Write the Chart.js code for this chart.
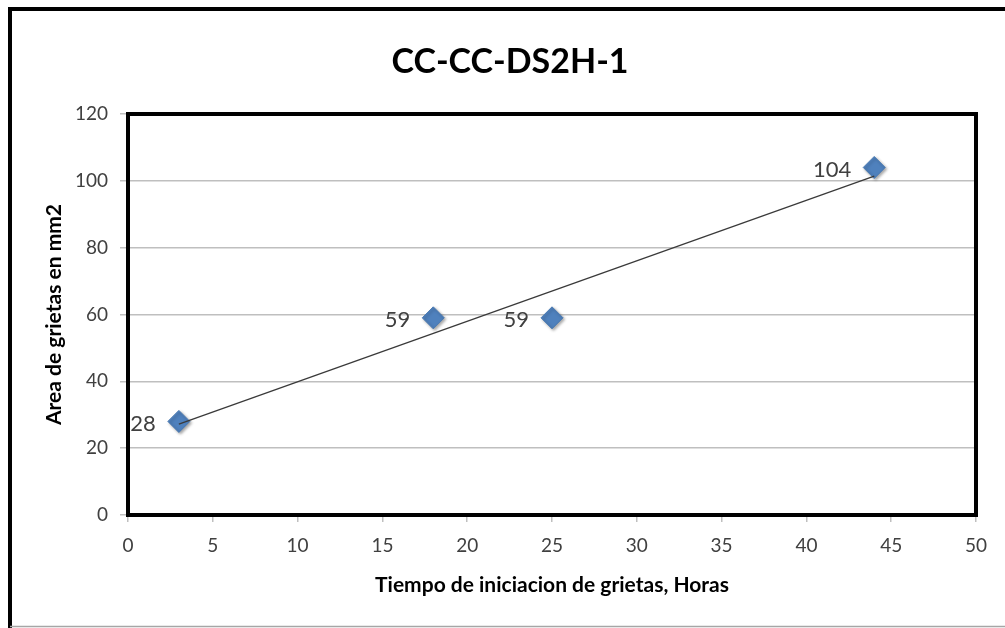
<!DOCTYPE html>
<html>
<head>
<meta charset="utf-8">
<script src="https://cdn.jsdelivr.net/npm/chart.js@4"></script>
<style>
  html, body { margin: 0; padding: 0; background: #fff; }
  #grietasChart { display: block; }
</style>
</head>
<body>
<canvas id="grietasChart" width="1005" height="628"></canvas>
<script>
// data
const horas = [3, 18, 25, 44];
const area = [28, 59, 59, 104];
// linear trendline ends, as drawn in the original
const trendX = [3, 44];
const trendY = [27.2, 101.4];
const xTicks = [0, 5, 10, 15, 20, 25, 30, 35, 40, 45, 50];
const yTicks = [0, 20, 40, 60, 80, 100, 120];
const chartTitle = 'CC-CC-DS2H-1';

const FONT = 'Lato, "Open Sans", sans-serif';

// frame around the whole picture, title and thick plot border
const frame = {
    id: 'frame',
    beforeDraw(chart) {
        const c = chart.ctx;
        c.save();
        c.fillStyle = '#fff';
        c.fillRect(0, 0, chart.width, chart.height);
        c.restore();
    },
    afterDraw(chart) {
        const c = chart.ctx;
        const a = chart.chartArea;
        c.save();
        c.strokeStyle = '#000';
        c.lineWidth = 4;
        c.beginPath();
        c.moveTo(8, 9);
        c.lineTo(chart.width, 9);
        c.moveTo(10, 7);
        c.lineTo(10, chart.height);
        c.stroke();
        c.strokeStyle = '#a6a6a6';
        c.lineWidth = 1.5;
        c.beginPath();
        c.moveTo(10, 626.5);
        c.lineTo(chart.width, 626.5);
        c.stroke();
        c.strokeStyle = '#000';
        c.lineWidth = 4;
        c.strokeRect(a.left, a.top, a.right - a.left, a.bottom - a.top);

        c.fillStyle = '#000';
        c.font = 'bold 34px ' + FONT;
        c.textAlign = 'center';
        c.textBaseline = 'middle';
        c.fillText(chartTitle, 510, 62);
        c.restore();
    }
};

// soft shadow under the diamonds
const markerShadow = {
    id: 'markerShadow',
    beforeDatasetDraw(chart, args) {
        if (args.index !== 1) return;
        const c = chart.ctx;
        c.save();
        c.shadowColor = 'rgba(0,0,0,0.35)';
        c.shadowBlur = 3;
        c.shadowOffsetX = 1.5;
        c.shadowOffsetY = 1.5;
    },
    afterDatasetDraw(chart, args) {
        if (args.index !== 1) return;
        chart.ctx.restore();
    }
};

// value labels to the left of each point
const valueLabels = {
    id: 'valueLabels',
    afterDatasetsDraw(chart) {
        const c = chart.ctx;
        const meta = chart.getDatasetMeta(1);
        c.save();
        c.font = '22px ' + FONT;
        c.fillStyle = '#404040';
        c.textAlign = 'right';
        c.textBaseline = 'middle';
        meta.data.forEach((pt, i) => {
            c.fillText(String(Math.round(area[i])), pt.x - 23, pt.y + 2);
        });
        c.restore();
    }
};

const ctx = document.getElementById('grietasChart').getContext('2d');
const grietasChart = new Chart(ctx, {
    type: 'scatter',
    data: {
        datasets: [{
            label: 'Lineal',
            data: trendX.map((x, i) => ({ x: x, y: trendY[i] })),
            showLine: true,
            borderColor: '#3a3a3a',
            borderWidth: 1.3,
            pointRadius: 0,
            pointHoverRadius: 0
        }, {
            label: 'Area',
            data: horas.map((x, i) => ({ x: x, y: area[i] })),
            pointStyle: 'rectRot',
            pointRadius: 11,
            pointHoverRadius: 11,
            backgroundColor: '#4f81bd',
            borderColor: '#4a7ab3',
            borderWidth: 1
        }]
    },
    options: {
        responsive: false,
        animation: false,
        events: [],
        layout: {
            padding: { left: 0, right: 29, top: 114, bottom: 0 }
        },
        scales: {
            x: {
                type: 'linear',
                min: 0,
                max: 50,
                afterBuildTicks: (s) => { s.ticks = xTicks.map(v => ({ value: v })); },
                afterFit: (s) => { s.height = 113; },
                border: { display: false },
                grid: {
                    drawOnChartArea: false,
                    drawTicks: true,
                    tickLength: 7,
                    color: '#bfbfbf',
                    lineWidth: 1.5
                },
                ticks: {
                    padding: 12,
                    color: '#404040',
                    font: { family: FONT, size: 19 }
                },
                title: {
                    display: true,
                    text: 'Tiempo de iniciacion de grietas, Horas',
                    color: '#000',
                    font: { family: FONT, size: 21, weight: 'bold' },
                    padding: { top: 0, bottom: 30 }
                }
            },
            y: {
                type: 'linear',
                min: 0,
                max: 120,
                afterBuildTicks: (s) => { s.ticks = yTicks.map(v => ({ value: v })); },
                afterFit: (s) => { s.width = 128; },
                border: { display: false },
                grid: {
                    drawTicks: true,
                    tickLength: 8,
                    color: '#bfbfbf',
                    lineWidth: 1.5
                },
                ticks: {
                    padding: 12,
                    color: '#404040',
                    font: { family: FONT, size: 19 }
                },
                title: {
                    display: true,
                    text: 'Area de grietas en mm2',
                    color: '#000',
                    font: { family: FONT, size: 21, weight: 'bold' },
                    padding: { top: 42, bottom: 0 }
                }
            }
        },
        plugins: {
            legend: { display: false },
            tooltip: { enabled: false },
            title: { display: false }
        }
    },
    plugins: [frame, markerShadow, valueLabels]
});
</script>
</body>
</html>
